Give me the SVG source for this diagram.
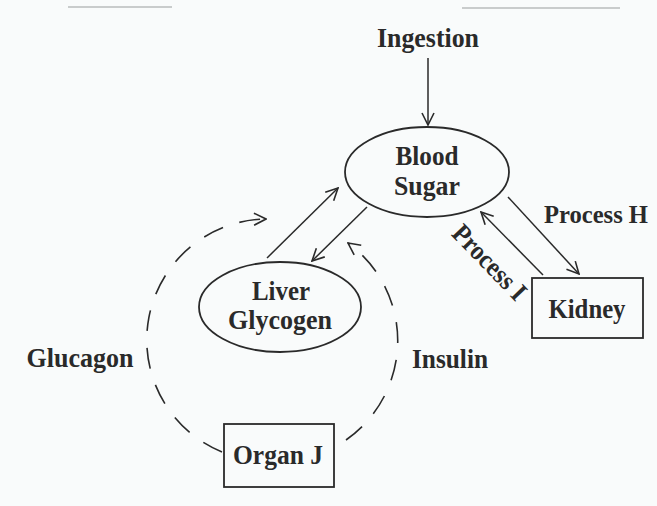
<svg xmlns="http://www.w3.org/2000/svg" width="657" height="506" viewBox="0 0 657 506">
<style>
.t{font-family:"Liberation Serif","Times New Roman",serif;font-weight:bold;font-size:27px;fill:#2a2a2a}
.m{text-anchor:middle}
.shape{fill:none;stroke:#2a2a2a;stroke-width:1.8}
.ln{fill:none;stroke:#2a2a2a;stroke-width:1.5}
.dash{fill:none;stroke:#2a2a2a;stroke-width:1.6;stroke-dasharray:21 17}
</style>
<defs>
<marker id="ah" viewBox="0 0 14 14" refX="13" refY="7" markerWidth="14" markerHeight="14" markerUnits="userSpaceOnUse" orient="auto">
<path d="M1,1 L13,7 L1,13" fill="none" stroke="#2a2a2a" stroke-width="1.6" stroke-dasharray="none"/>
</marker>
</defs>
<rect width="657" height="506" fill="#f9fbfb"/>
<line x1="68" y1="7" x2="172" y2="7" stroke="#b8bcbc" stroke-width="1.5"/>
<line x1="462" y1="8" x2="620" y2="8" stroke="#b8bcbc" stroke-width="1.5"/>

<g id="connectors">
<line class="ln" x1="428" y1="58" x2="428" y2="125" marker-end="url(#ah)"/>
<line class="ln" x1="267" y1="258" x2="338" y2="188" marker-end="url(#ah)"/>
<line class="ln" x1="367" y1="207" x2="312" y2="261" marker-end="url(#ah)"/>
<line class="ln" x1="508" y1="197" x2="579" y2="274" marker-end="url(#ah)"/>
<line class="ln" x1="543" y1="275" x2="481" y2="212" marker-end="url(#ah)"/>
<path class="dash" d="M222,452 A121,121 0 0 1 266,219" marker-end="url(#ah)"/>
<path class="dash" d="M346,440 A121,121 0 0 0 348,243" marker-end="url(#ah)"/>
</g>

<g id="ingestion"><text class="t m" x="428" y="47" textLength="102" lengthAdjust="spacingAndGlyphs">Ingestion</text></g>

<g id="blood-sugar">
<ellipse class="shape" cx="427" cy="172" rx="82" ry="45"/>
<text class="t m" x="427" y="165" textLength="63" lengthAdjust="spacingAndGlyphs">Blood</text>
<text class="t m" x="427" y="195" textLength="66" lengthAdjust="spacingAndGlyphs">Sugar</text>
</g>

<g id="liver-glycogen">
<ellipse class="shape" cx="280" cy="307" rx="81" ry="45"/>
<text class="t m" x="281" y="300" textLength="58" lengthAdjust="spacingAndGlyphs">Liver</text>
<text class="t m" x="280" y="329" textLength="104" lengthAdjust="spacingAndGlyphs">Glycogen</text>
</g>

<g id="kidney">
<rect class="shape" x="532" y="278" width="111" height="60"/>
<text class="t m" x="587" y="318" textLength="77" lengthAdjust="spacingAndGlyphs">Kidney</text>
</g>

<g id="organ-j">
<rect class="shape" x="224" y="424" width="110" height="63"/>
<text class="t m" x="278" y="464" textLength="90" lengthAdjust="spacingAndGlyphs">Organ J</text>
</g>

<g id="labels">
<text class="t m" x="596" y="223" style="font-size:25px" textLength="104" lengthAdjust="spacingAndGlyphs">Process H</text>
<text class="t m" transform="translate(489,263) rotate(46)" x="0" y="8" textLength="94" lengthAdjust="spacingAndGlyphs">Process I</text>
<text class="t m" x="80" y="367" textLength="107" lengthAdjust="spacingAndGlyphs">Glucagon</text>
<text class="t m" x="450" y="368" textLength="76" lengthAdjust="spacingAndGlyphs">Insulin</text>
</g>
</svg>
